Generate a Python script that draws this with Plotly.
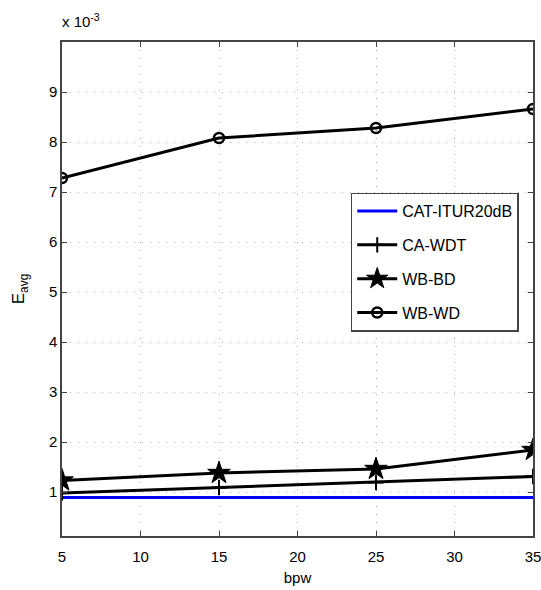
import plotly.graph_objects as go

bpw = [5, 15, 25, 35]
cat_itur20db = [0.89, 0.89, 0.89, 0.89]
ca_wdt = [0.98, 1.09, 1.19, 1.31]
wb_bd = [1.23, 1.38, 1.46, 1.84]
wb_wd = [7.28, 8.08, 8.28, 8.66]
y_ticks = [1, 2, 3, 4, 5, 6, 7, 8, 9]
x_ticks = [5, 10, 15, 20, 25, 30, 35]

FONT = "Liberation Sans, Arial"

fig = go.Figure()
fig.add_trace(go.Scatter(x=bpw, y=cat_itur20db, name="CAT-ITUR20dB", mode="lines", legendgroup="a",
                         line=dict(color="#0000ff", width=3)))
fig.add_trace(go.Scatter(x=bpw, y=ca_wdt, name="CA-WDT", mode="lines+markers", legendgroup="b",
                         line=dict(color="black", width=3),
                         marker=dict(symbol="cross-thin-open", size=11, color="black",
                                     line=dict(color="black", width=2))))
fig.add_trace(go.Scatter(x=bpw, y=wb_bd, name="WB-BD", mode="lines+markers", legendgroup="c",
                         line=dict(color="black", width=3),
                         marker=dict(symbol="star", size=17, color="black",
                                     line=dict(color="black", width=1))))
fig.add_trace(go.Scatter(x=bpw, y=wb_wd, name="WB-WD", mode="lines+markers", legendgroup="d",
                         line=dict(color="black", width=3),
                         marker=dict(symbol="circle-open", size=10, color="black",
                                     line=dict(color="black", width=2.5))))

axis_common = dict(showline=True, linecolor="#444", linewidth=1.5, mirror="ticks",
                   ticks="inside", ticklen=5, tickcolor="#444", automargin=False,
                   ticklabeloverflow="allow",
                   showgrid=True, gridcolor="#b0b0b0", griddash="1px,7px", gridwidth=1,
                   zeroline=False, tickfont=dict(family=FONT, size=15, color="black"))

fig.update_xaxes(range=[5, 35], tickvals=x_ticks, ticklabelstandoff=6,
                 title=dict(text="bpw", font=dict(family=FONT, size=15, color="black"),
                            standoff=9),
                 **axis_common)
fig.update_yaxes(range=[0.12, 10], tickvals=y_ticks,
                 title=dict(text="E<sub>avg</sub>", font=dict(family=FONT, size=17, color="black"),
                            standoff=20),
                 **axis_common)

fig.add_annotation(x=0, y=1, xref="paper", yref="paper", xanchor="left", yanchor="bottom",
                   text="x 10<sup>-3</sup>", showarrow=False, yshift=10, xshift=-2,
                   font=dict(family=FONT, size=15, color="black"))

fig.update_layout(
    width=541, height=590,
    margin=dict(l=62, r=8, t=42, b=54),
    paper_bgcolor="white", plot_bgcolor="white",
    showlegend=True,
    legend=dict(x=0.613, y=0.695, xanchor="left", yanchor="top",
                bgcolor="white", bordercolor="#444", borderwidth=1.5,
                font=dict(family=FONT, size=16, color="black"),
                itemwidth=40, tracegroupgap=10),
)

fig.write_html("out.html", config={"displayModeBar": False},
               post_script="document.body.style.margin='0';document.body.style.overflow='hidden';")
